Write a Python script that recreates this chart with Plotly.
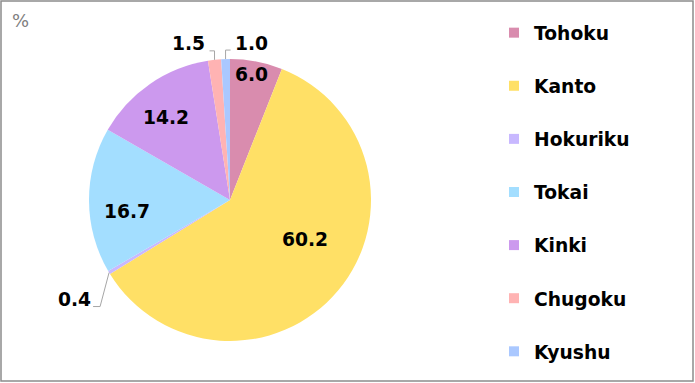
import math
import plotly.graph_objects as go

regions = ["Tohoku", "Kanto", "Hokuriku", "Tokai", "Kinki", "Chugoku", "Kyushu"]
shares = [6.0, 60.2, 0.4, 16.7, 14.2, 1.5, 1.0]
colors = ["#D98CAE", "#FFE066", "#C8B8FF", "#A3DEFF", "#CC99EE", "#FFB3B3", "#AAC8FF"]

W, H = 695, 383
FONT = "DejaVu Sans"
FS = 18.7

# pie geometry (pixels)
CX, CY, R = 230, 200, 141

# label style: inside -> radial fraction + angular nudge (deg); outside -> leader-line offsets
label_style = {
    "Tohoku": dict(kind="in", rf=0.90, da=-1),
    "Kanto": dict(kind="in", rf=0.60, da=-12),
    "Hokuriku": dict(kind="out", ex=-9, ey=34, tail=-7, tx=0, ty=-7),
    "Tokai": dict(kind="in", rf=0.735, da=-6),
    "Kinki": dict(kind="in", rf=0.74, da=-3),
    "Chugoku": dict(kind="out", ex=0, ey=-9, tail=-5, tx=-3, ty=-7),
    "Kyushu": dict(kind="out", ex=0, ey=-9, tail=5, tx=2, ty=-7),
}

def px2paper(x, y):
    return x / W, 1 - y / H

fig = go.Figure()
fig.add_trace(go.Pie(
    labels=regions, values=shares, sort=False, direction="clockwise", rotation=0,
    marker=dict(colors=colors, line=dict(width=0)),
    textinfo="none",
    domain=dict(x=[(CX - R) / W, (CX + R) / W], y=[1 - (CY + R) / H, 1 - (CY - R) / H]),
    showlegend=False, hoverinfo="label+value",
))

for i, (r, c) in enumerate(zip(regions, colors)):
    fig.add_trace(go.Scatter(
        x=[None], y=[None], mode="markers", name=r,
        marker=dict(symbol="square", size=10, color=c),
        legendgroup=f"g{i}", showlegend=True,
    ))

annotations = [dict(text="%", xref="paper", yref="paper", x=10 / W, y=1 - 20 / H,
                    xanchor="left", yanchor="middle", showarrow=False,
                    font=dict(family=FONT, size=18, color="#808080"))]
shapes = [dict(type="rect", xref="paper", yref="paper",
               x0=1 / W, x1=693 / W, y0=2 / H, y1=382 / H,
               line=dict(color="#8C8C8C", width=1.5))]

total = sum(shares)
cum = 0.0
for name, v in zip(regions, shares):
    mid = (cum + v / 2) / total
    cum += v
    th = 2 * math.pi * mid
    st = label_style[name]
    txt = f"{v:.1f}"
    if st["kind"] == "in":
        rr = R * st["rf"]
        t2 = th + math.radians(st["da"])
        x, y = CX + rr * math.sin(t2), CY - rr * math.cos(t2)
        ax, ay = px2paper(x, y)
        annotations.append(dict(text=txt, xref="paper", yref="paper", x=ax, y=ay,
                                xanchor="center", yanchor="middle", showarrow=False,
                                font=dict(family=FONT, size=FS, color="black", weight="bold")))
    else:
        px, py = CX + R * math.sin(th), CY - R * math.cos(th)
        ex, ey = px + st["ex"], py + st["ey"]
        tx_, ty_ = ex + st["tail"], ey
        pts = [px2paper(px, py), px2paper(ex, ey), px2paper(tx_, ty_)]
        path = "M {} {} L {} {} L {} {}".format(*[c for p in pts for c in p])
        shapes.append(dict(type="path", xref="paper", yref="paper", path=path,
                           line=dict(color="#A6A6A6", width=1)))
        lx, ly = px2paper(tx_ + st["tx"], ty_ + st["ty"])
        annotations.append(dict(text=txt, xref="paper", yref="paper", x=lx, y=ly,
                                xanchor="right" if st["tail"] < 0 else "left",
                                yanchor="middle", showarrow=False,
                                font=dict(family=FONT, size=FS, color="black", weight="bold")))

fig.update_layout(
    width=W, height=H,
    margin=dict(l=0, r=0, t=0, b=0),
    paper_bgcolor="white", plot_bgcolor="white",
    xaxis=dict(visible=False), yaxis=dict(visible=False),
    legend=dict(
        x=494 / W, y=1 - 14 / H, xanchor="left", yanchor="top",
        font=dict(family=FONT, size=FS, color="black", weight="bold"),
        traceorder="grouped", tracegroupgap=25.8, bgcolor="rgba(0,0,0,0)",
    ),
    shapes=shapes,
    annotations=annotations,
)

fig.write_html("out.html", config={"displayModeBar": False},
               post_script="document.body.style.margin='0px';")
